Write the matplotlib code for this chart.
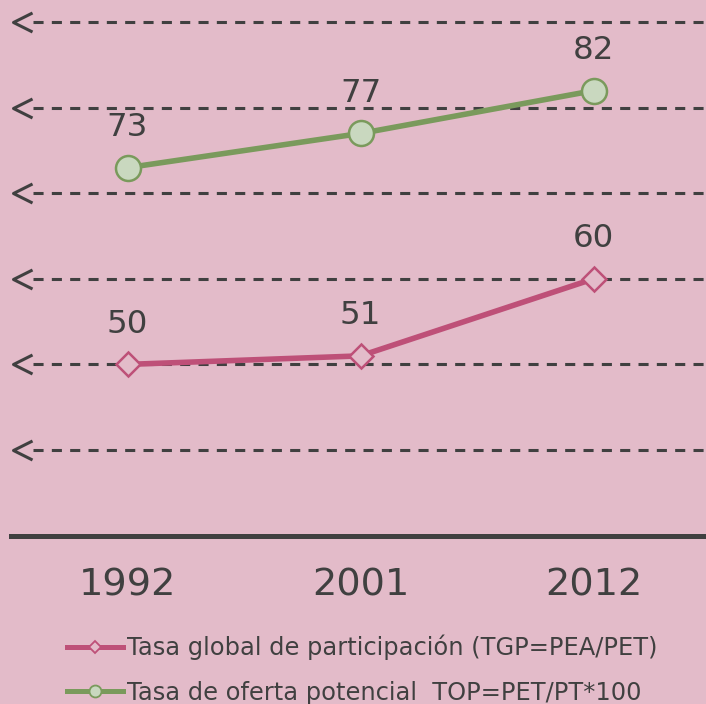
import matplotlib
matplotlib.use("Agg")
import matplotlib.pyplot as plt
from matplotlib.lines import Line2D
from matplotlib.path import Path

years = ["1992", "2001", "2012"]
tgp = [50, 51, 60]
top = [73, 77, 82]
legend_labels = ["Tasa global de participación (TGP=PEA/PET)",
                 "Tasa de oferta potencial  TOP=PET/PT*100"]
grid_levels = [40, 50, 60, 70, 80, 90]

plt.rcParams["font.family"] = ["DejaVu Sans"]

BG = "#E3BBC9"
DARK = "#404040"
PINK = "#BE5078"
GREEN = "#7A9A5C"
GREEN_FILL = "#C9D8BF"

fig = plt.figure(figsize=(7.06, 7.04), dpi=100, facecolor=BG)
ax = fig.add_axes([11/706, 168.5/704, 699/706, 535.5/704])
ax.set_facecolor(BG)
ax.set_xlim(-0.5, 2.5)
ax.set_ylim(30, 92.6)

x = list(range(len(years)))
ytr = ax.get_yaxis_transform()
chev = Path([(2, 1), (0, 0), (2, -1)], [Path.MOVETO, Path.LINETO, Path.LINETO])
for g in grid_levels:
    ax.plot([0.0315, 1.0], [g, g], transform=ytr, color=DARK, lw=2.2,
            dashes=(3.3, 2.7), zorder=1, clip_on=False)
    ax.plot([0.003], [g], transform=ytr, marker=chev, ms=27.4, mew=2.2,
            mec=DARK, mfc="none", ls="none", zorder=1, clip_on=False)

ax.plot(x, tgp, color=PINK, lw=4.0, marker="D", ms=12.5, mfc=BG, mec=PINK,
        mew=1.8, zorder=3, clip_on=False)
ax.plot(x, top, color=GREEN, lw=4.0, marker="o", ms=18, mfc=GREEN_FILL,
        mec=GREEN, mew=1.8, zorder=3, clip_on=False)

for xi, v in zip(x, tgp):
    ax.annotate(str(v), (xi, v), xytext=(0, 22.8), textcoords="offset points",
                ha="center", va="baseline", fontsize=23.4, color=DARK)
for xi, v in zip(x, top):
    ax.annotate(str(v), (xi, v), xytext=(0, 22.8), textcoords="offset points",
                ha="center", va="baseline", fontsize=23.4, color=DARK)

for s in ["top", "left", "right"]:
    ax.spines[s].set_visible(False)
ax.spines["bottom"].set_color(DARK)
ax.spines["bottom"].set_linewidth(3.6)
ax.set_yticks([])
ax.set_xticks(x)
ax.set_xticklabels(years, fontsize=27.5, color=DARK)
ax.tick_params(axis="x", length=0, pad=23.3)

handles = [
    Line2D([], [], color=PINK, lw=3.6, marker="D", ms=5.8, mfc=BG, mec=PINK, mew=1.3),
    Line2D([], [], color=GREEN, lw=3.6, marker="o", ms=8.6, mfc=GREEN_FILL, mec=GREEN, mew=1.3),
]
fig.legend(handles, legend_labels, loc="upper left", bbox_to_anchor=(67/706, 1 - 635/704),
           frameon=False, fontsize=17.4, labelcolor=DARK, handlelength=2.32,
           handletextpad=0.17, labelspacing=0.84, borderaxespad=0, borderpad=0)

fig.savefig("out.png", dpi=100, facecolor=BG)
